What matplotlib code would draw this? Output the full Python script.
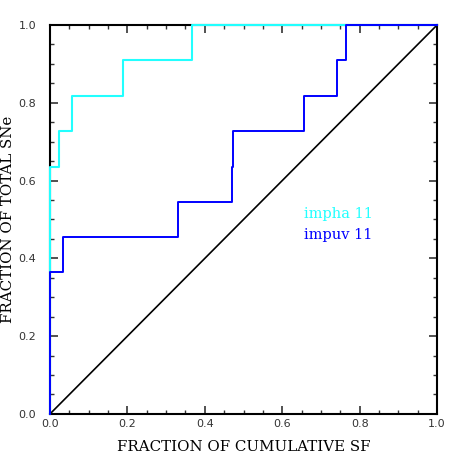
import matplotlib.pyplot as plt
from matplotlib.ticker import MultipleLocator

# cumulative SF fraction where each step occurs, and the SNe fraction reached
impha_sf = [0.0, 0.0, 0.024, 0.056, 0.188, 0.366, 1.0]
impha_sne = [0.0, 0.636, 0.727, 0.818, 0.909, 1.0, 1.0]

impuv_sf = [0.0, 0.0, 0.034, 0.33, 0.469, 0.472, 0.656, 0.741, 0.765, 1.0]
impuv_sne = [0.0, 0.364, 0.455, 0.545, 0.636, 0.727, 0.818, 0.909, 1.0, 1.0]

labels = ["impha 11", "impuv 11"]

fig = plt.figure(figsize=(4.63, 4.63), dpi=100)
ax = fig.add_axes([0.108, 0.106, 0.836, 0.840])

ax.plot([0, 1], [0, 1], color="black", lw=1.2, zorder=3, clip_on=False)
ax.plot(impha_sf, impha_sne, drawstyle="steps-post", color="#22ffff", lw=1.5,
        zorder=3, clip_on=False)
ax.plot(impuv_sf, impuv_sne, drawstyle="steps-post", color="#0000ff", lw=1.4,
        zorder=3.1, clip_on=False)

ax.set_xlim(0, 1)
ax.set_ylim(0, 1)
ax.xaxis.set_major_locator(MultipleLocator(0.2))
ax.yaxis.set_major_locator(MultipleLocator(0.2))
ax.xaxis.set_minor_locator(MultipleLocator(0.05))
ax.yaxis.set_minor_locator(MultipleLocator(0.05))
ax.tick_params(which="both", direction="in", top=True, right=True,
               color="#333333", labelsize=8, labelcolor="#333333")
ax.tick_params(which="major", length=6, width=1.2)
ax.tick_params(axis="x", which="major", pad=4)
ax.tick_params(axis="y", which="major", pad=10)
ax.tick_params(which="minor", length=3, width=1.0)
for s in ax.spines.values():
    s.set_linewidth(1.5)

ax.set_xlabel("FRACTION OF CUMULATIVE SF", family="DejaVu Serif", fontsize=10.8)
ax.set_ylabel("FRACTION OF TOTAL SNe", family="DejaVu Serif", fontsize=10.8)
ax.xaxis.set_label_coords(0.5, -0.068)
ax.yaxis.set_label_coords(-0.09, 0.5)

ax.text(0.656, 0.514, labels[0], color="#22ffff", family="DejaVu Serif", fontsize=10.5, va="center")
ax.text(0.656, 0.46, labels[1], color="#0000ff", family="DejaVu Serif", fontsize=10.5, va="center")

plt.savefig("out.png", dpi=100)
